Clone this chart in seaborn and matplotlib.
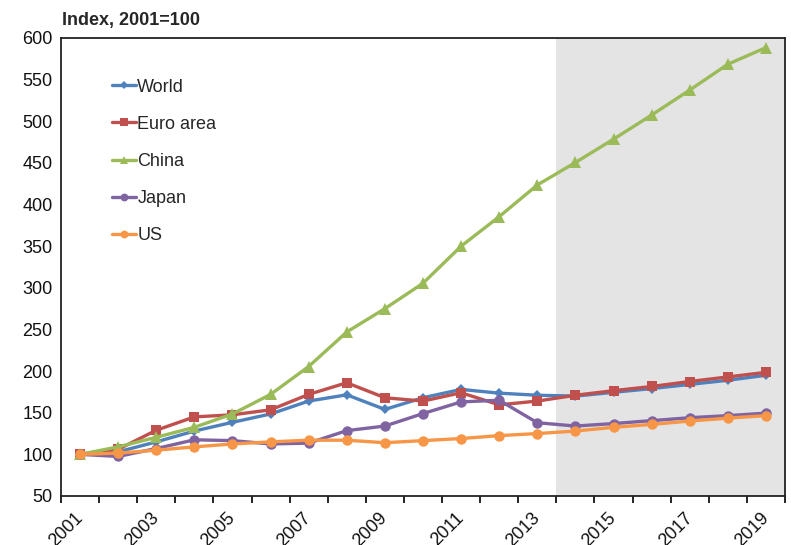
import numpy as np
import pandas as pd
import matplotlib
matplotlib.use("Agg")
import matplotlib.pyplot as plt
import seaborn as sns

years = list(range(2001, 2020))
world = [100, 103, 115, 128, 138.5, 148.5, 164, 171.5, 154, 168, 178, 173.5, 171, 170, 174.5, 179, 184, 189, 195]
euro_area = [100, 106, 129, 145, 147.5, 153.5, 172, 186, 168, 164, 174, 159.5, 164, 171, 176.5, 181.5, 187.5, 193, 198.5]
china = [100, 109, 120.5, 132.5, 148.5, 172, 205.5, 247, 275, 305.5, 350, 385.5, 423.5, 450.5, 478.5, 507.5, 537.5, 568.5, 588.5]
japan = [100, 97.5, 107, 117.5, 116.5, 112.5, 113.5, 128.5, 134, 149, 163, 165, 138, 134, 137, 140.5, 144, 146.5, 149.5]
us = [100, 101.5, 105, 109, 112.5, 115, 117, 117, 114, 116.5, 119, 122.5, 125, 128, 132.5, 136, 140, 143.5, 146.5]

series_names = ["World", "Euro area", "China", "Japan", "US"]
series_values = [world, euro_area, china, japan, us]
colors = ["#4F81BD", "#C0504D", "#9BBB59", "#8064A2", "#F79646"]
markers = ["D", "s", "^", "o", "o"]
marker_sizes = [5, 7.5, 8, 7.5, 7.5]

rows = []
for name, vals in zip(series_names, series_values):
    for i, (yr, v) in enumerate(zip(years, vals)):
        rows.append({"pos": i, "year": yr, "value": v, "series": name})
df = pd.DataFrame(rows)

sns.set_style("white")
plt.rcParams["font.family"] = ["Liberation Sans", "DejaVu Sans"]

fig = plt.figure(figsize=(7.91, 5.45), dpi=100)
ax = fig.add_axes([61 / 791, 1 - 496 / 545, (785 - 61) / 791, (496 - 38) / 545])

# Forecast period shading
ax.axvspan(12.5, 18.5, color="#E4E4E4", zorder=0, lw=0)

for k, (name, col, mk, ms) in enumerate(zip(series_names, colors, markers, marker_sizes)):
    sub = df[df["series"] == name]
    sns.lineplot(data=sub, x="pos", y="value", ax=ax, color=col, lw=2.4,
                 marker=mk, markersize=ms, markeredgewidth=0, label=name,
                 zorder=3 + k)

ax.set_xlim(-0.5, 18.5)
ax.set_ylim(50, 600)
ax.set_yticks(np.arange(50, 601, 50))
ax.tick_params(axis="y", length=0, pad=6, labelsize=13, colors="#111111")

major_pos = list(range(0, 19, 2))
ax.set_xticks(major_pos)
ax.set_xticklabels([str(years[i]) for i in major_pos], rotation=45,
                   ha="right", va="center", rotation_mode="anchor", fontsize=13)
ax.set_xticks(np.arange(-0.5, 18.6, 1), minor=True)
ax.tick_params(axis="x", which="major", length=0, pad=14, colors="#111111")
ax.tick_params(axis="x", which="minor", length=5, width=1.2, color="black", direction="out", bottom=True)

ax.set_xlabel("")
ax.set_ylabel("")
for s in ax.spines.values():
    s.set_visible(True)
    s.set_color("#222222")
    s.set_linewidth(1.3)

leg = ax.legend(loc="upper left", bbox_to_anchor=(0.048, 0.947), frameon=False,
                fontsize=13, handlelength=1.35, handletextpad=0.05, labelspacing=1.12,
                markerscale=0.75)

fig.text(62 / 791, 1 - 21 / 545, "Index, 2001=100", fontsize=13, fontweight="bold",
         ha="left", va="center")

fig.savefig("out.png", dpi=100)
